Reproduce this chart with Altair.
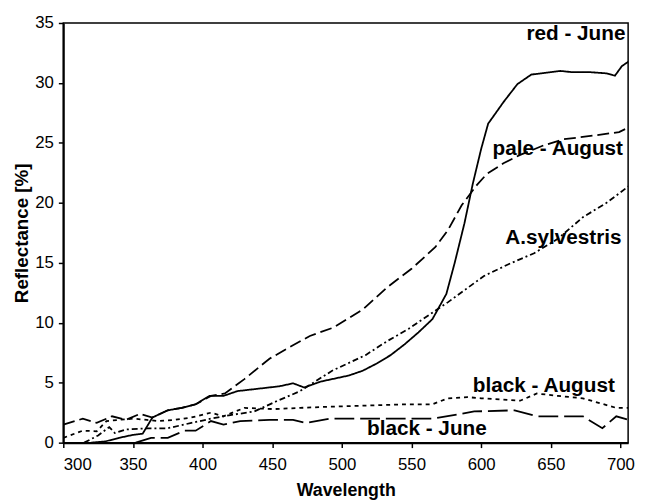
import altair as alt
import pandas as pd

# red - June (solid)
red_june_x = [320, 330, 340, 350, 357, 364, 375, 385, 395, 405, 415, 425, 440, 455, 465, 473, 485, 495, 505, 515, 525, 535, 545, 555, 565, 575, 581, 588, 594, 600, 605, 616, 626, 636, 657, 665, 678, 690, 696, 701, 706]
red_june_y = [0.0, 0.1, 0.4, 0.65, 0.75, 2.1, 2.7, 2.9, 3.2, 3.9, 3.9, 4.3, 4.5, 4.7, 4.95, 4.6, 5.1, 5.35, 5.6, 6.0, 6.6, 7.3, 8.2, 9.2, 10.3, 12.4, 15.0, 18.3, 21.6, 24.5, 26.6, 28.4, 29.9, 30.7, 31.0, 30.9, 30.9, 30.8, 30.6, 31.4, 31.8]

# pale - August (long dash)
pale_aug_x = [300, 314, 324, 335, 345, 355, 364, 375, 385, 395, 406, 416, 430, 448, 460, 477, 494, 515, 533, 550, 567, 576, 586, 597, 604, 616, 628, 645, 659, 680, 699, 706]
pale_aug_y = [1.5, 2.0, 1.65, 2.2, 1.9, 2.4, 2.1, 2.7, 2.9, 3.2, 3.9, 4.1, 5.3, 7.0, 7.8, 8.9, 9.6, 11.1, 13.0, 14.5, 16.3, 17.7, 19.8, 21.5, 22.4, 23.3, 24.0, 24.8, 25.3, 25.6, 25.9, 26.3]

# A.sylvestris (dash-dot)
sylv_x = [315, 325, 333, 337, 345, 360, 375, 392, 406, 420, 437, 453, 470, 493, 517, 533, 548, 567, 576, 602, 620, 638, 655, 673, 690, 706]
sylv_y = [0.0, 0.6, 1.3, 0.8, 1.1, 1.2, 1.2, 1.65, 2.0, 2.3, 2.6, 3.45, 4.3, 6.0, 7.3, 8.5, 9.5, 11.0, 11.7, 13.9, 14.9, 15.8, 17.0, 18.8, 20.0, 21.4]

# black - August (short dash)
black_aug_x = [300, 314, 324, 331, 340, 350, 360, 368, 380, 392, 406, 415, 430, 451, 470, 491, 520, 545, 565, 576, 590, 600, 615, 628, 640, 655, 673, 685, 697, 706]
black_aug_y = [0.4, 1.0, 0.95, 1.8, 1.9, 2.0, 1.9, 1.8, 1.9, 2.1, 2.5, 2.2, 2.9, 2.8, 2.9, 3.0, 3.1, 3.2, 3.2, 3.7, 3.8, 3.7, 3.6, 3.5, 4.1, 3.9, 3.7, 3.3, 2.9, 2.9]

# black - June (long dash)
black_june_x = [352, 363, 375, 387, 395, 406, 415, 427, 448, 465, 474, 491, 520, 545, 565, 595, 624, 640, 673, 687, 697, 706]
black_june_y = [0.0, 0.4, 0.4, 1.0, 1.0, 1.8, 1.5, 1.8, 1.9, 1.9, 1.65, 2.0, 2.0, 2.0, 2.0, 2.6, 2.7, 2.2, 2.2, 1.2, 2.2, 1.9]

series_names = ["red - June", "pale - August", "A.sylvestris", "black - August", "black - June"]
dashes = [[1, 0], [12, 5], [6, 3, 2, 3], [4, 4], [20, 6]]

label_text = ["red - June", "pale - August", "A.sylvestris", "black - August", "black - June"]
label_x = [668, 655, 659, 645, 561]
label_y = [34.1, 24.5, 17.1, 4.7, 1.1]

x_ticks = [300, 350, 400, 450, 500, 550, 600, 650, 700]
y_ticks = [0, 5, 10, 15, 20, 25, 30, 35]

rows = []
for name, xs, ys in zip(series_names,
                        [red_june_x, pale_aug_x, sylv_x, black_aug_x, black_june_x],
                        [red_june_y, pale_aug_y, sylv_y, black_aug_y, black_june_y]):
    for i, (a, b) in enumerate(zip(xs, ys)):
        rows.append({"series": name, "wl": a, "refl": b, "order": i})
df = pd.DataFrame(rows)
labels = pd.DataFrame({"text": label_text, "x": label_x, "y": label_y})

FONT = "Liberation Sans"

xscale = alt.Scale(domain=[300, 705.5], nice=False, zero=False)
yscale = alt.Scale(domain=[0, 35], nice=False)

lines = alt.Chart(df).mark_line(color="black", strokeWidth=1.8, clip=True).encode(
    x=alt.X("wl:Q", scale=xscale,
            axis=alt.Axis(title="Wavelength", values=x_ticks, grid=False, format="d",
                          titleFontSize=18, titlePadding=10, labelPadding=9)),
    y=alt.Y("refl:Q", scale=yscale,
            axis=alt.Axis(title="Reflectance [%]", values=y_ticks, grid=False,
                          titleFontSize=19, titlePadding=3, labelPadding=5)),
    detail="series:N",
    order="order:Q",
    strokeDash=alt.StrokeDash("series:N", scale=alt.Scale(domain=series_names, range=dashes), legend=None),
)

text = alt.Chart(labels).mark_text(font=FONT, fontSize=21, fontWeight="bold", color="black").encode(
    x=alt.X("x:Q", scale=xscale),
    y=alt.Y("y:Q", scale=yscale),
    text="text:N",
)

chart = alt.layer(lines, text).properties(
    width=572, height=425,
    autosize=alt.AutoSizeParams(type="none"),
    padding={"left": 56, "top": 12, "right": 10, "bottom": 64},
).configure_view(stroke="black", strokeWidth=1.5).configure_axis(
    domainColor="black", domainWidth=2, tickColor="black", tickWidth=1.5, tickSize=5,
    labelFont=FONT, labelFontSize=17, labelColor="black",
    titleFont=FONT, titleFontWeight="bold", titleColor="black",
)

chart.save("out.html", embed_options={"renderer": "svg", "actions": False})
